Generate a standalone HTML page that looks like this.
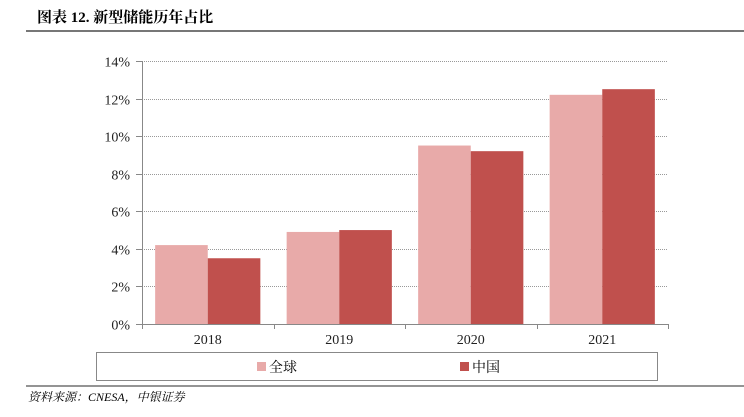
<!DOCTYPE html>
<html><head><meta charset="utf-8"><style>
body{margin:0;background:#fff;width:744px;height:412px;overflow:hidden;font-family:"Liberation Serif","Noto Serif CJK SC",serif;}
</style></head><body>
<svg width="744" height="412" xmlns="http://www.w3.org/2000/svg">
<text x="37" y="22" font-size="15" font-weight="bold" fill="#000" font-family="Liberation Serif,Noto Serif CJK SC,serif">图表 12. 新型储能历年占比</text>
<line x1="26" y1="31" x2="744" y2="31" stroke="#777" stroke-width="2"/>
<g id="grid"></g>
<g id="bars"></g>
<g id="axes"></g>
<rect x="96.5" y="352.5" width="561" height="28" fill="none" stroke="#888"/>
<rect x="257" y="362" width="9" height="9" fill="#E8AAA9"/>
<text x="269" y="372" font-size="14" font-family="Liberation Serif,Noto Serif CJK SC,serif">全球</text>
<rect x="460" y="362" width="9" height="9" fill="#C0504D"/>
<text x="472" y="372" font-size="14" font-family="Liberation Serif,Noto Serif CJK SC,serif">中国</text>
<line x1="26" y1="386" x2="744" y2="386" stroke="#555" stroke-width="1.2"/>
<text x="28" y="401" font-size="12" font-style="italic" font-family="Liberation Serif,Noto Serif CJK SC,serif">资料来源：CNESA，中银证券</text>
</svg>
<script>
const categories=["2018","2019","2020","2021"];
const globalValues=[4.2,4.9,9.5,12.2];
const chinaValues=[3.5,5.0,9.2,12.5];
const yTicks=[0,2,4,6,8,10,12,14];
const NS="http://www.w3.org/2000/svg";
const x0=142,x1=668,y0=324,y1=61,yMax=14;
const yS=v=>y0-(v/yMax)*(y0-y1);
const band=(x1-x0)/categories.length;
const xS=i=>x0+i*band;
function mk(tag,attrs,parent,text){const e=document.createElementNS(NS,tag);for(const k in attrs)e.setAttribute(k,attrs[k]);if(text!==undefined)e.textContent=text;document.getElementById(parent).appendChild(e);return e;}
yTicks.forEach(t=>{
  const y=Math.round(yS(t))+0.5;
  if(t>0){const g=mk('line',{x1:x0,y1:y,x2:x1,y2:y,stroke:'#999','stroke-dasharray':'1,1'},'grid');
  
  }
  const tk=mk('line',{x1:x0-6,y1:y,x2:x0,y2:y,stroke:'#888'},'axes');
  
  
  const l=mk('text',{x:x0-12,y:y+5,'font-size':14,'text-anchor':'end',fill:'#222'},'axes',t+'%');
  
  
});
const bw=band*0.4;
categories.forEach((c,i)=>{
  const s=xS(i)+band*0.1;
  const b1=mk('rect',{x:s,y:yS(globalValues[i]),width:bw,height:y0-yS(globalValues[i]),fill:'#E8AAA9'},'bars');
  
  
  const b2=mk('rect',{x:s+bw,y:yS(chinaValues[i]),width:bw,height:y0-yS(chinaValues[i]),fill:'#C0504D'},'bars');
  
  
  const l=mk('text',{x:xS(i)+band/2,y:344,'font-size':14,'text-anchor':'middle',fill:'#222'},'axes',c);
  
  
});
for(let i=0;i<=categories.length;i++){
  const x=Math.round(xS(i))+0.5;
  const t=mk('line',{x1:x,y1:y0,x2:x,y2:y0+5,stroke:'#888'},'axes');
  
  
}
const ya=mk('line',{x1:x0+0.5,y1:y1,x2:x0+0.5,y2:y0,stroke:'#888'},'axes');


const xa=mk('line',{x1:x0,y1:y0+0.5,x2:x1,y2:y0+0.5,stroke:'#888'},'axes');


</script>
</body></html>
